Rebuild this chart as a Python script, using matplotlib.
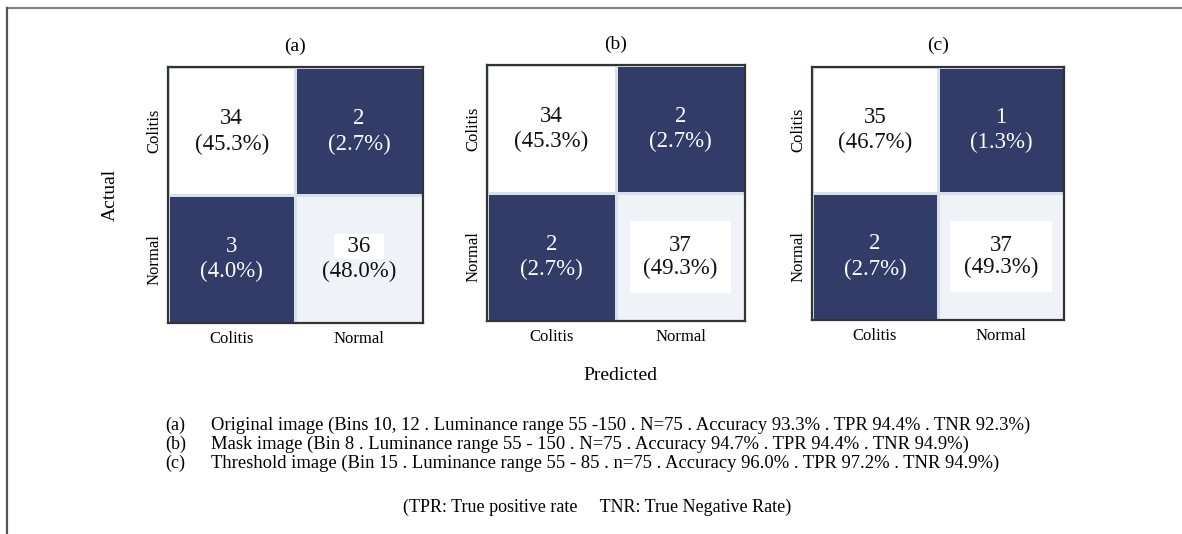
import numpy as np
import matplotlib as mpl

mpl.use("Agg")
import matplotlib.pyplot as plt
from matplotlib.colors import ListedColormap, BoundaryNorm
from matplotlib.lines import Line2D

#
# --- confusion matrix data (rows: actual, cols: predicted)
#
CLASSES = ["Colitis", "Normal"]
PANEL_TITLES = ["(a)", "(b)", "(c)"]
COUNTS_A = [[34, 2], [3, 36]]
COUNTS_B = [[34, 2], [2, 37]]
COUNTS_C = [[35, 1], [2, 37]]
N_TOTAL = 75

CAPTION_TAGS = ["(a)", "(b)", "(c)"]
CAPTION_LINES = [
    "Original image (Bins 10, 12 . Luminance range 55 -150 . N=75 . Accuracy 93.3% . TPR 94.4% . TNR 92.3%)",
    "Mask image (Bin 8 . Luminance range 55 - 150 . N=75 . Accuracy 94.7% . TPR 94.4% . TNR 94.9%)",
    "Threshold image (Bin 15 . Luminance range 55 - 85 . n=75 . Accuracy 96.0% . TPR 97.2% . TNR 94.9%)",
]
FOOTNOTE = "(TPR: True positive rate     TNR: True Negative Rate)"

#
# --- look and layout
#
FONT = ["Liberation Serif", "DejaVu Serif"]
DARK = "#323c69"
CMAP = ListedColormap([DARK, "#ffffff", "#eff3f7"])
NORM = BoundaryNorm([0, 10, 35.5, 100], CMAP.N)
AX_RECTS = [
    [0.1421, 0.395, 0.2157, 0.479],
    [0.4120, 0.399, 0.2183, 0.479],
    [0.6870, 0.401, 0.2132, 0.474],
]
PATCHED = [False, True, True]  # white patches behind the big diagonal cell text

plt.rcParams["font.family"] = FONT


def draw_panel(fig, rect, counts, title, patched):
    ax = fig.add_axes(rect)
    counts = np.array(counts)
    ax.pcolormesh(counts, cmap=CMAP, norm=NORM, edgecolor="#d8e0ea", linewidth=0.8)
    ax.set_xlim(0, 2)
    ax.set_ylim(2, 0)
    for i in range(2):
        for j in range(2):
            val = counts[i, j]
            pct = 100.0 * val / N_TOTAL
            dark = val < 10
            col = "white" if dark else "#111111"
            light_cell = val > 35.5
            if light_cell and patched:
                ax.text(j + 0.5, i + 0.5, f"{val}\n({pct:.1f}%)", ha="center", va="center",
                        fontsize=16.5, color=col, linespacing=1.1,
                        bbox=dict(boxstyle="square,pad=0.6", fc="white", ec="none"))
            else:
                label = f"  {val}  " if light_cell else f"{val}"
                bb = dict(boxstyle="square,pad=0.08", fc="white", ec="none") if light_cell else None
                ax.text(j + 0.5, i + 0.4, label, ha="center", va="center",
                        fontsize=16.5, color=col, bbox=bb)
                ax.text(j + 0.5, i + 0.6, f"({pct:.1f}%)", ha="center", va="center",
                        fontsize=16.5, color=col)
    ax.set_xticks([0.5, 1.5])
    ax.set_yticks([0.5, 1.5])
    ax.set_xticklabels(CLASSES, fontsize=12)
    ax.set_yticklabels(CLASSES, fontsize=12, rotation=90, va="center")
    ax.tick_params(axis="x", length=0, pad=5.5)
    ax.tick_params(axis="y", length=0, pad=4)
    for sp in ax.spines.values():
        sp.set_color("#333333")
        sp.set_linewidth(1.6)
    ax.set_title(title, fontsize=14, pad=12)
    return ax


fig = plt.figure(figsize=(11.82, 5.34), dpi=100)

for rect, counts, title, patched in zip(AX_RECTS, [COUNTS_A, COUNTS_B, COUNTS_C], PANEL_TITLES, PATCHED):
    draw_panel(fig, rect, counts, title, patched)

fig.text(110 / 1182, 1 - 195 / 534, "Actual", rotation=90, ha="center", va="center", fontsize=14)
fig.text(620 / 1182, 1 - 376 / 534, "Predicted", ha="center", va="center", fontsize=14)

#
# --- caption block
#
for k, (tag, line) in enumerate(zip(CAPTION_TAGS, CAPTION_LINES)):
    y = 1 - (425 + 19 * k) / 534
    fig.text(165 / 1182, y, tag, ha="left", va="center", fontsize=13)
    fig.text(211 / 1182, y, line, ha="left", va="center", fontsize=13.4)
fig.text(597 / 1182, 1 - 507 / 534, FOOTNOTE, ha="center", va="center", fontsize=13)

#
# --- outer frame lines (top and left)
#
fig.add_artist(Line2D([7 / 1182, 1], [1 - 8 / 534, 1 - 8 / 534], color="#808080", lw=1.6))
fig.add_artist(Line2D([7 / 1182, 7 / 1182], [0, 1 - 8 / 534], color="#555555", lw=1.6))

fig.savefig("out.png", dpi=100)
